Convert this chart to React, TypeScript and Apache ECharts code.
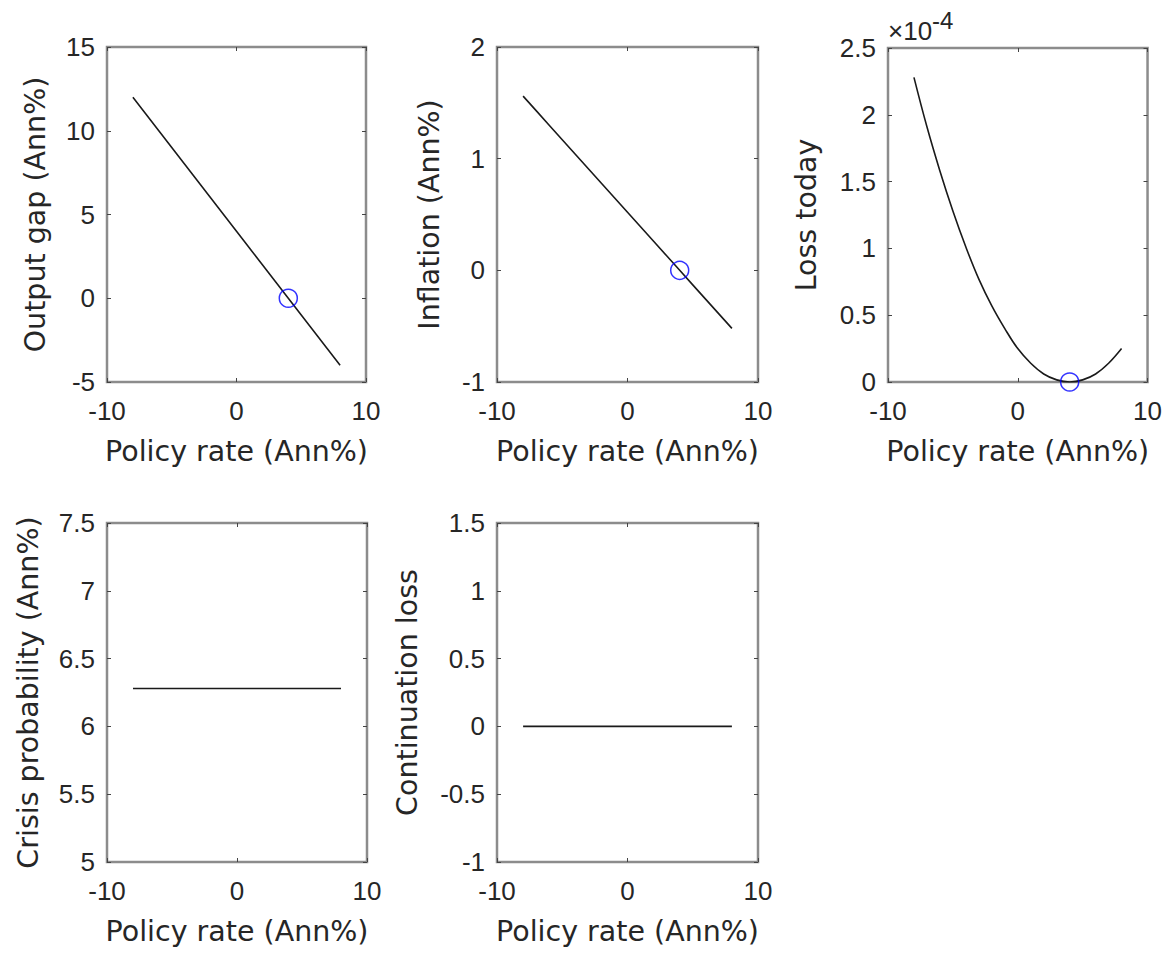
import React, { useEffect, useRef } from "react";
import * as echarts from "echarts";

// Policy rate grid (Ann%)
const policyRate = [-8, -7, -6, -5, -4, -3, -2, -1, 0, 1, 2, 3, 4, 5, 6, 7, 8];
// Output gap (Ann%)
const outputGap = [12, 11, 10, 9, 8, 7, 6, 5, 4, 3, 2, 1, 0, -1, -2, -3, -4];
// Inflation (Ann%)
const inflation = [1.56, 1.43, 1.3, 1.17, 1.04, 0.91, 0.78, 0.65, 0.52, 0.39, 0.26, 0.13, 0, -0.13, -0.26, -0.39, -0.52];
// Loss today (x 1e-4)
const lossToday = [2.28, 1.91, 1.58, 1.28, 1.01, 0.77, 0.57, 0.4, 0.25, 0.14, 0.06, 0.016, 0, 0.016, 0.06, 0.14, 0.25];
// Crisis probability (Ann%)
const crisisProbability = [6.28, 6.28, 6.28, 6.28, 6.28, 6.28, 6.28, 6.28, 6.28, 6.28, 6.28, 6.28, 6.28, 6.28, 6.28, 6.28, 6.28];
// Continuation loss
const continuationLoss = [0, 0, 0, 0, 0, 0, 0, 0, 0, 0, 0, 0, 0, 0, 0, 0, 0];
// Chosen point (blue circle)
const chosenRate = 4;
const chosenOutputGap = 0;
const chosenInflation = 0;
const chosenLoss = 0;

const xLabel = "Policy rate (Ann%)";
const yLabels = ["Output gap (Ann%)", "Inflation (Ann%)", "Loss today", "Crisis probability (Ann%)", "Continuation loss"];
const yRanges = [
  [-5, 15, 5],
  [-1, 2, 1],
  [0, 2.5, 0.5],
  [5, 7.5, 0.5],
  [-1, 1.5, 0.5],
];
const xRange = [-10, 10, 10];
const exponentLabel = "-4";

const grids = [
  { left: 107, top: 47, width: 259, height: 335 },
  { left: 497, top: 47, width: 261, height: 335 },
  { left: 888, top: 48, width: 260, height: 334 },
  { left: 107, top: 523, width: 260, height: 339 },
  { left: 497, top: 523, width: 261, height: 339 },
];
const nameGaps = [57, 53, 67, 64, 75];

const TICK_FONT = "'Liberation Sans', Arial, sans-serif";
const LABEL_FONT = "'DejaVu Sans', 'Liberation Sans', sans-serif";
const TEXT_COLOR = "#262626";
const BOX_COLOR = "#8c8c8c";

export default function App() {
  const ref = useRef<HTMLDivElement>(null);
  useEffect(() => {
    if (!ref.current) return;
    const chart = echarts.init(ref.current, null, { renderer: "svg" });
    const lines = [outputGap, inflation, lossToday, crisisProbability, continuationLoss];
    const markers: (number[] | null)[] = [
      [chosenRate, chosenOutputGap],
      [chosenRate, chosenInflation],
      [chosenRate, chosenLoss],
      null,
      null,
    ];

    const xAxes: any[] = [];
    const yAxes: any[] = [];
    const series: any[] = [];
    grids.forEach((g, i) => {
      const [ymin, ymax, yint] = yRanges[i];
      const tick = { show: true, inside: true, length: 4, lineStyle: { color: "#444", width: 1 } };
      const line = { show: false, onZero: false };
      xAxes.push({
        type: "value",
        gridIndex: i,
        min: xRange[0],
        max: xRange[1],
        interval: xRange[2],
        position: "bottom",
        axisLine: line,
        axisTick: tick,
        splitLine: { show: false },
        axisLabel: { fontFamily: TICK_FONT, fontSize: 26, color: TEXT_COLOR, margin: 16 },
        name: xLabel,
        nameLocation: "middle",
        nameGap: 55,
        nameTextStyle: { fontFamily: LABEL_FONT, fontSize: 28.5, color: TEXT_COLOR },
      });
      xAxes.push({
        type: "value",
        gridIndex: i,
        min: xRange[0],
        max: xRange[1],
        interval: xRange[2],
        position: "top",
        axisLine: line,
        axisTick: tick,
        splitLine: { show: false },
        axisLabel: { show: false },
      });
      yAxes.push({
        type: "value",
        gridIndex: i,
        min: ymin,
        max: ymax,
        interval: yint,
        position: "left",
        axisLine: line,
        axisTick: tick,
        splitLine: { show: false },
        axisLabel: { fontFamily: TICK_FONT, fontSize: 26, color: TEXT_COLOR, margin: 12 },
        name: yLabels[i],
        nameLocation: "middle",
        nameGap: nameGaps[i],
        nameTextStyle: { fontFamily: LABEL_FONT, fontSize: 28.5, color: TEXT_COLOR },
      });
      yAxes.push({
        type: "value",
        gridIndex: i,
        min: ymin,
        max: ymax,
        interval: yint,
        position: "right",
        axisLine: line,
        axisTick: tick,
        splitLine: { show: false },
        axisLabel: { show: false },
      });
      series.push({
        type: "line",
        xAxisIndex: i * 2,
        yAxisIndex: i * 2,
        data: policyRate.map((x, k) => [x, lines[i][k]]),
        showSymbol: false,
        smooth: i === 2 ? 0.4 : false,
        lineStyle: { color: "#1a1a1a", width: 1.6 },
        z: 3,
      });
      const m = markers[i];
      if (m) {
        series.push({
          type: "scatter",
          xAxisIndex: i * 2,
          yAxisIndex: i * 2,
          data: [m],
          symbol: "circle",
          symbolSize: 18,
          clip: false,
          itemStyle: { color: "rgba(0,0,0,0)", borderColor: "#0000ff", borderWidth: 1.5 },
          z: 4,
        });
      }
    });

    chart.setOption({
      animation: false,
      backgroundColor: "#ffffff",
      grid: grids.map((g) => ({
        ...g,
        show: true,
        borderColor: BOX_COLOR,
        borderWidth: 2.5,
        backgroundColor: "transparent",
        containLabel: false,
      })),
      xAxis: xAxes,
      yAxis: yAxes,
      series,
      graphic: [
        {
          type: "text",
          left: 888,
          top: 18,
          style: { text: "\u00d710", fontFamily: TICK_FONT, fontSize: 26, fill: TEXT_COLOR },
        },
        {
          type: "text",
          left: 932,
          top: 8,
          style: { text: exponentLabel, fontFamily: TICK_FONT, fontSize: 24, fill: TEXT_COLOR },
        },
      ],
    });
    return () => chart.dispose();
  }, []);
  return (
    <div
      ref={ref}
      style={{ position: "absolute", left: 0, top: 0, width: 1165, height: 953, background: "#fff" }}
    />
  );
}
